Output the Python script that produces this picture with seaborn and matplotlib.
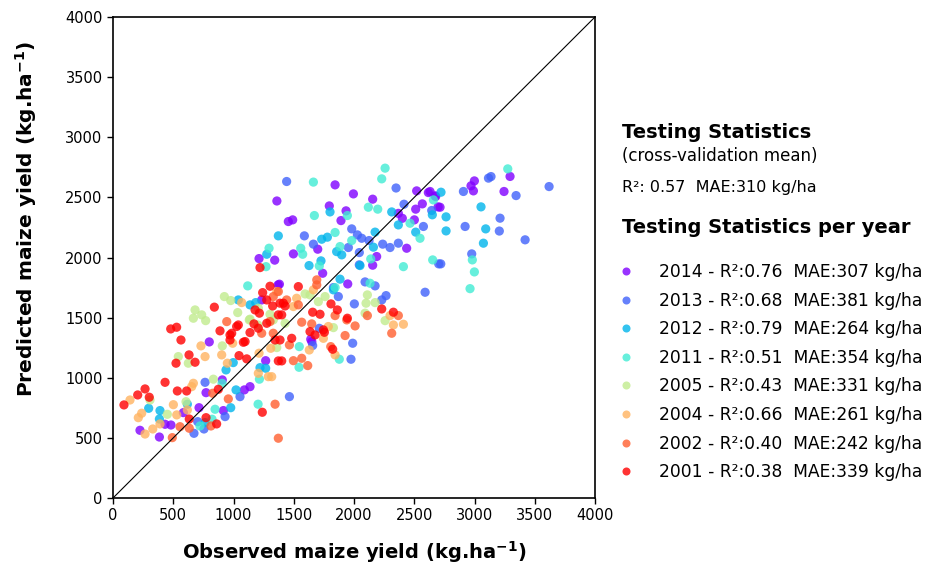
import numpy as np
import pandas as pd
import seaborn as sns
import matplotlib.pyplot as plt
from matplotlib import cm
from matplotlib.lines import Line2D

# observed / predicted maize yield (kg/ha) per test year
obs_2014 = [1360, 1212, 1342, 1370, 1234, 1843, 1995, 2155, 1795, 1934, 1455, 1491, 1892, 2520, 2617,
            2678, 2567, 2512, 2401, 2501, 2368, 2698, 1699, 1497, 2188, 2155, 1740, 2437, 1948, 1381,
            2999, 2971, 2991, 3295, 3245, 2673, 2714, 2631, 799, 1267, 907, 772, 1137, 1090, 714,
            584, 432, 481, 224, 385, 916, 1641, 1650]
pred_2014 = [2470, 1991, 1978, 1772, 1647, 2604, 2529, 2485, 2429, 2388, 2299, 2313, 2307, 2554, 2540,
             2507, 2446, 2402, 2326, 2313, 2367, 2421, 2069, 2030, 2008, 1936, 1869, 2077, 1780, 1778,
             2637, 2596, 2554, 2674, 2549, 2513, 2418, 2549, 1298, 1142, 982, 876, 926, 899, 751,
             710, 613, 607, 563, 507, 727, 1320, 1300]

obs_2013 = [1441, 2349, 2415, 2645, 1588, 1663, 1981, 2028, 2064, 2125, 1953, 2044, 2238, 2299, 2368,
            2576, 2044, 2092, 2175, 1870, 2266, 2003, 2590, 2703, 1829, 3116, 3137, 2908, 3345, 3619,
            3212, 2922, 3206, 3420, 2977, 2720, 764, 1054, 703, 672, 755, 930, 1712, 1989, 1975,
            1464, 1657, 2230]
pred_2013 = [2632, 2578, 2443, 2391, 2180, 2111, 2238, 2188, 2160, 2141, 2083, 2041, 2111, 2083, 2119,
             2258, 1939, 1797, 1764, 1675, 1683, 1614, 1711, 1947, 1750, 2660, 2673, 2549, 2515, 2590,
             2327, 2258, 2220, 2147, 2030, 1947, 962, 843, 635, 538, 574, 677, 1411, 1287, 1154,
             843, 1268, 1647]

obs_2012 = [1372, 1276, 1040, 1137, 1184, 1801, 1732, 1779, 2175, 2313, 2368, 2512, 2650, 1898, 1856,
            1726, 1627, 2161, 2050, 1829, 2722, 3054, 2764, 2764, 3093, 3074, 938, 998, 1267, 390,
            296, 385, 617, 1021, 977, 764, 1220, 1884]
pred_2012 = [2180, 2027, 1647, 1606, 1625, 2379, 2152, 2169, 2211, 2379, 2271, 2211, 2355, 2022, 2049,
             1972, 1933, 2086, 1933, 1731, 2543, 2421, 2338, 2221, 2238, 2119, 1065, 1126, 1079, 727,
             746, 657, 780, 899, 751, 627, 1084, 1820]

obs_2011 = [1295, 1270, 1118, 2258, 2230, 1663, 2119, 2197, 1671, 1945, 1843, 1981, 1884, 1558, 1574,
            2139, 2465, 2548, 2653, 2410, 2659, 2133, 1843, 1712, 3276, 2982, 2999, 2963, 905, 847,
            1204, 1215, 822, 722, 1546, 1544, 1878]
pred_2011 = [2077, 1924, 1764, 2743, 2654, 2627, 2418, 2402, 2349, 2349, 2208, 2141, 2091, 2077, 2027,
             1988, 2285, 2160, 1980, 1924, 2479, 1786, 1750, 1930, 2737, 1980, 1880, 1741, 954, 738,
             780, 988, 655, 599, 1259, 1087, 1154]

obs_2005 = [924, 977, 681, 736, 667, 769, 1035, 1137, 2111, 2100, 2175, 2258, 1594, 1760, 542,
            625, 833, 307, 606, 451, 907, 1303, 1330, 1428, 1635, 1131, 1201, 1206, 1359, 2092,
            1829, 1704]
pred_2005 = [1675, 1642, 1564, 1523, 1495, 1475, 1542, 1487, 1689, 1620, 1625, 1475, 1697, 1675, 1176,
             1121, 988, 815, 801, 696, 1265, 1528, 1481, 1453, 1689, 1481, 1439, 1578, 1251, 1537,
             1417, 1633]

obs_2004 = [1068, 1524, 1663, 1787, 2327, 2410, 2299, 1359, 1497, 730, 902, 764, 949, 1206, 1289,
            667, 653, 141, 238, 210, 330, 266, 501, 529, 617, 390, 1309, 1212, 993, 1629,
            1843, 1317, 1746]
pred_2004 = [1625, 1661, 1731, 1426, 1439, 1445, 1517, 1717, 1592, 1265, 1190, 1176, 1121, 1037, 1009,
             954, 926, 815, 705, 668, 574, 532, 776, 691, 732, 616, 1245, 1204, 1287, 1231,
             1190, 1009, 1328]

obs_2002 = [944, 1372, 1303, 1691, 1691, 1538, 1843, 1940, 2009, 2111, 2368, 1330, 1441, 1566, 1649,
            1234, 1330, 957, 556, 633, 813, 1345, 1372, 827, 492, 1566, 1497, 1616, 1926, 2313,
            1464, 1807]
pred_2002 = [1467, 1717, 1467, 1814, 1772, 1606, 1517, 1481, 1431, 1517, 1517, 1675, 1647, 1462, 1448,
             1370, 1370, 824, 593, 580, 599, 780, 497, 871, 502, 1162, 1142, 1101, 1351, 1370,
             1273, 1259]

obs_2001 = [528, 479, 841, 1220, 1242, 1303, 1276, 1325, 1179, 1215, 1372, 1040, 1170, 1276, 1538,
            1386, 1428, 1400, 1809, 1862, 1657, 1718, 1945, 2230, 2327, 1746, 564, 631, 523, 681,
            432, 534, 611, 266, 205, 301, 91, 874, 633, 772, 860, 1239, 1026, 1082, 1046,
            1110, 1372, 971, 1345, 1483, 1635, 1754, 1823, 1400, 888, 985, 1096, 1206, 1386, 1414,
            971, 1137, 1677]
pred_2001 = [1420, 1406, 1587, 1916, 1708, 1761, 1647, 1597, 1564, 1537, 1523, 1439, 1448, 1453, 1758,
             1620, 1597, 1523, 1614, 1564, 1545, 1528, 1495, 1572, 1545, 1398, 1314, 1190, 1121, 1129,
             962, 890, 890, 907, 857, 838, 774, 904, 657, 668, 616, 713, 1426, 1295, 1184,
             1157, 1140, 1356, 1314, 1328, 1384, 1378, 1237, 1140, 1390, 1370, 1301, 1412, 1314, 1620,
             1314, 1376, 1356]

years = [2014, 2013, 2012, 2011, 2005, 2004, 2002, 2001]
r2_year = [0.76, 0.68, 0.79, 0.51, 0.43, 0.66, 0.40, 0.38]
mae_year = [307, 381, 264, 354, 331, 261, 242, 339]
r2_cv = 0.57
mae_cv = 310

observed = [obs_2014, obs_2013, obs_2012, obs_2011, obs_2005, obs_2004, obs_2002, obs_2001]
predicted = [pred_2014, pred_2013, pred_2012, pred_2011, pred_2005, pred_2004, pred_2002, pred_2001]

frames = []
for yr, o, p in zip(years, observed, predicted):
    frames.append(pd.DataFrame({'year': yr, 'observed': o, 'predicted': p}))
df = pd.concat(frames, ignore_index=True)

sns.set_style('ticks')
plt.rcParams['font.family'] = ['DejaVu Sans']
for key in ['text.color', 'axes.labelcolor', 'xtick.color', 'ytick.color', 'axes.edgecolor']:
    plt.rcParams[key] = 'black'

# 9-step rainbow, the middle step is not used by any year
colors = cm.rainbow(np.linspace(0, 1, 9))
colors = np.delete(colors, 4, axis=0)
palette = {yr: colors[i] for i, yr in enumerate(years)}

W, H = 943, 573
fig = plt.figure(figsize=(W / 100, H / 100), dpi=100)
ax = fig.add_axes([113 / W, 1 - 498 / H, 482 / W, 481 / H])

sns.scatterplot(data=df, x='observed', y='predicted', hue='year', hue_order=years,
                palette=palette, s=44, alpha=0.8, linewidth=0, legend=False, ax=ax, zorder=2)
ax.plot([0, 4000], [0, 4000], color='black', linewidth=0.8, zorder=3)

ax.set_xlim(0, 4000)
ax.set_ylim(0, 4000)
ax.set_xticks(np.arange(0, 4001, 500))
ax.set_yticks(np.arange(0, 4001, 500))
ax.tick_params(labelsize=10.5, length=4, width=1)
for sp in ax.spines.values():
    sp.set_visible(True)
    sp.set_linewidth(1.2)

ax.set_xlabel(r'Observed maize yield (kg.ha$^{\mathbf{-1}}$)', fontsize=14, fontweight='bold')
ax.set_ylabel(r'Predicted maize yield (kg.ha$^{\mathbf{-1}}$)', fontsize=14.5, fontweight='bold')
ax.xaxis.set_label_coords(0.5, -0.085)
ax.yaxis.set_label_coords(-0.153, 0.58)

# statistics block on the right
x0 = 622 / W
fig.text(x0, 1 - 138 / H, 'Testing Statistics', fontsize=14, fontweight='bold', va='baseline')
fig.text(x0, 1 - 161 / H, '(cross-validation mean)', fontsize=12, va='baseline')
fig.text(x0, 1 - 192 / H, 'R\u00b2: %.2f  MAE:%d kg/ha' % (r2_cv, mae_cv), fontsize=11.5,
         va='baseline')
fig.text(x0, 1 - 233 / H, 'Testing Statistics per year', fontsize=14, fontweight='bold',
         va='baseline')

handles = [Line2D([0], [0], marker='o', linestyle='', markersize=5.8,
                  markerfacecolor=palette[yr], markeredgewidth=0, alpha=0.8) for yr in years]
labels = ['%d - R\u00b2:%.2f  MAE:%d kg/ha' % (yr, r, m) for yr, r, m in zip(years, r2_year, mae_year)]
leg = ax.legend(handles, labels, loc='upper left', bbox_to_anchor=(620 / W, 1 - 263 / H),
                bbox_transform=fig.transFigure, frameon=False, fontsize=12.3,
                handlelength=0.7, handletextpad=1.6, labelspacing=0.62, borderpad=0, borderaxespad=0)

plt.savefig('out.png', dpi=100)
